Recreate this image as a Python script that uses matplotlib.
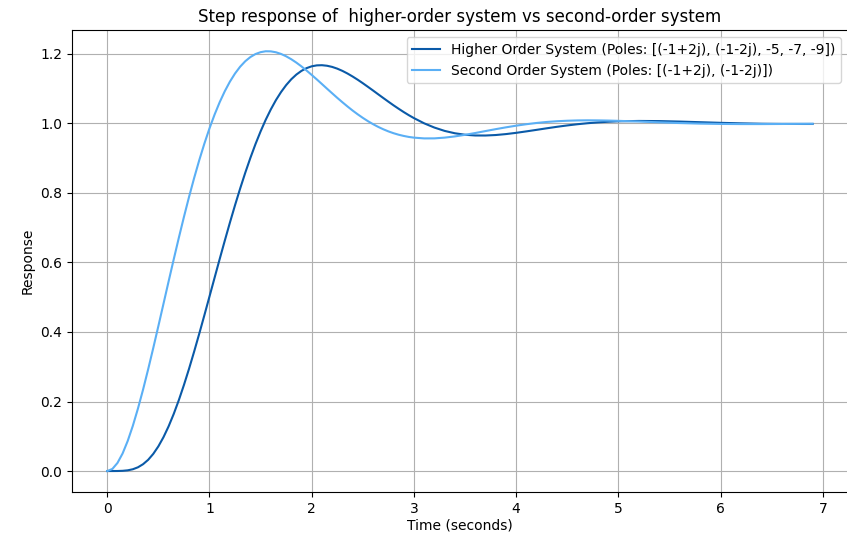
import matplotlib
matplotlib.use('Agg')
import matplotlib.pyplot as plt

# sample times (s)
t = [0.00, 0.05, 0.10, 0.15, 0.20, 0.25, 0.30, 0.35, 0.40, 0.45,
     0.50, 0.55, 0.60, 0.65, 0.70, 0.75, 0.80, 0.85, 0.90, 0.95,
     1.00, 1.05, 1.10, 1.15, 1.20, 1.25, 1.30, 1.35, 1.40, 1.45,
     1.50, 1.55, 1.60, 1.65, 1.70, 1.75, 1.80, 1.85, 1.90, 1.95,
     2.00, 2.05, 2.10, 2.15, 2.20, 2.25, 2.30, 2.35, 2.40, 2.45,
     2.50, 2.55, 2.60, 2.65, 2.70, 2.75, 2.80, 2.85, 2.90, 2.95,
     3.0, 3.1, 3.2, 3.3, 3.4, 3.5, 3.6, 3.7, 3.8, 3.9,
     4.0, 4.1, 4.2, 4.3, 4.4, 4.5, 4.6, 4.7, 4.8, 4.9,
     5.0, 5.2, 5.4, 5.6, 5.8, 6.0, 6.2, 6.4, 6.6, 6.8, 6.9]

# step response, poles -1+2j, -1-2j, -5, -7, -9
y_high = [0.0000, 0.0000, 0.0001, 0.0006, 0.0020, 0.0051, 0.0107, 0.0196, 0.0322, 0.0493,
          0.0710, 0.0974, 0.1285, 0.1641, 0.2039, 0.2475, 0.2942, 0.3437, 0.3952, 0.4482,
          0.5021, 0.5562, 0.6101, 0.6631, 0.7149, 0.7649, 0.8127, 0.8582, 0.9008, 0.9406,
          0.9771, 1.0105, 1.0404, 1.0671, 1.0903, 1.1103, 1.1271, 1.1407, 1.1513, 1.1592,
          1.1644, 1.1671, 1.1676, 1.1660, 1.1627, 1.1577, 1.1513, 1.1437, 1.1351, 1.1258,
          1.1158, 1.1054, 1.0948, 1.0840, 1.0733, 1.0627, 1.0523, 1.0424, 1.0328, 1.0238,
          1.0154, 1.0004, 0.9882, 0.9786, 0.9718, 0.9675, 0.9654, 0.9653, 0.9667, 0.9694,
          0.9730, 0.9772, 0.9816, 0.9861, 0.9904, 0.9943, 0.9978, 1.0007, 1.0031, 1.0049,
          1.0062, 1.0072, 1.0068, 1.0054, 1.0036, 1.0018, 1.0003, 0.9992, 0.9987, 0.9985, 0.9985]

# step response, poles -1+2j, -1-2j
y_second = [0.0000, 0.0060, 0.0233, 0.0505, 0.0865, 0.1299, 0.1795, 0.2340, 0.2926, 0.3539,
            0.4171, 0.4812, 0.5454, 0.6088, 0.6709, 0.7310, 0.7886, 0.8431, 0.8944, 0.9420,
            0.9858, 1.0256, 1.0613, 1.0929, 1.1204, 1.1438, 1.1633, 1.1790, 1.1910, 1.1997,
            1.2051, 1.2077, 1.2074, 1.2048, 1.2000, 1.1932, 1.1848, 1.1750, 1.1641, 1.1522,
            1.1396, 1.1267, 1.1134, 1.1000, 1.0868, 1.0737, 1.0611, 1.0489, 1.0372, 1.0263,
            1.0161, 1.0066, 0.9980, 0.9902, 0.9833, 0.9772, 0.9720, 0.9676, 0.9641, 0.9612,
            0.9592, 0.9570, 0.9571, 0.9592, 0.9627, 0.9673, 0.9725, 0.9781, 0.9836, 0.9888,
            0.9936, 0.9978, 1.0014, 1.0043, 1.0064, 1.0078, 1.0087, 1.0090, 1.0088, 1.0083,
            1.0075, 1.0055, 1.0032, 1.0012, 0.9996, 0.9986, 0.9982, 0.9982, 0.9985, 0.9990, 0.9992]

fig = plt.figure(figsize=(8.47, 5.33), dpi=100)
ax = fig.add_subplot(111)
fig.subplots_adjust(left=0.085, right=1.001, top=0.9432, bottom=0.0769)

ax.plot(t, y_high, color='#0a5aa8', linewidth=1.5,
        label='Higher Order System (Poles: [(-1+2j), (-1-2j), -5, -7, -9])')
ax.plot(t, y_second, color='#5aaff5', linewidth=1.5,
        label='Second Order System (Poles: [(-1+2j), (-1-2j)])')

ax.set_title('Step response of  higher-order system vs second-order system')
ax.set_xlabel('Time (seconds)', labelpad=2)
ax.set_ylabel('Response')
ax.grid(True)
ax.legend(loc='upper right')

fig.savefig('out.png', dpi=100)
